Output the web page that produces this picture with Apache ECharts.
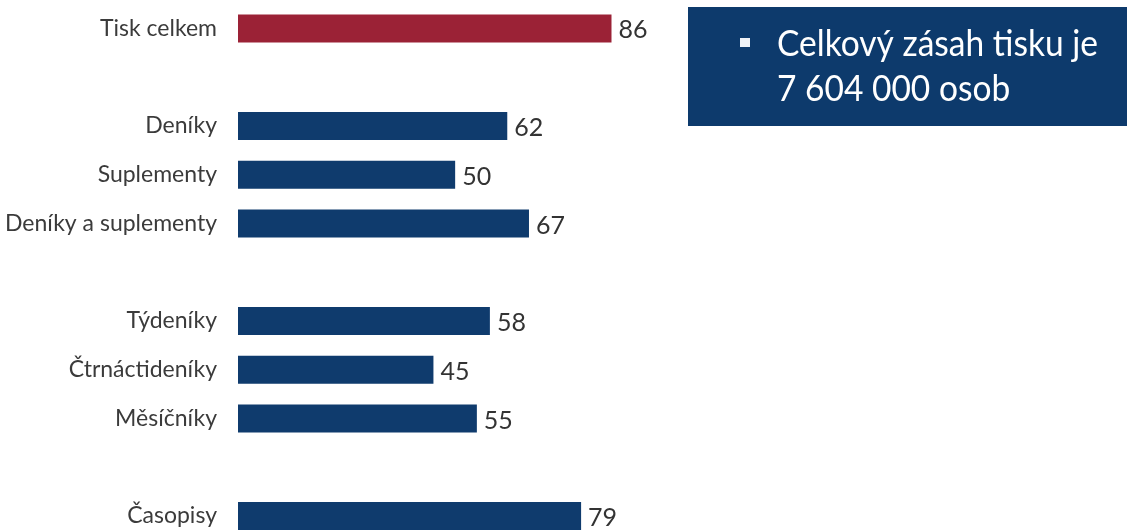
<!DOCTYPE html>
<html>
<head>
<meta charset="utf-8">
<script src="https://cdn.jsdelivr.net/npm/echarts@6/dist/echarts.min.js"></script>
<style>
html,body{margin:0;padding:0;background:#fff;}
#c{width:1127px;height:531px;}
</style>
</head>
<body>
<div id="c"></div>
<script>
var categories = ['Tisk celkem', ' ', 'Deníky', 'Suplementy', 'Deníky a suplementy', '  ', 'Týdeníky', 'Čtrnáctideníky', 'Měsíčníky', '   ', 'Časopisy'];
var values = [86, null, 62, 50, 67, null, 58, 45, 55, null, 79];
var highlight = ['Tisk celkem'];
var boxLine1 = 'Celkový zásah tisku je';
var boxLine2 = '7 604 000 osob';

var RED = '#9b2236';
var NAVY = '#0f3b6d';
var FONT = 'Lato, "Liberation Sans", sans-serif';

// horizontal squeeze for box text so it fits the measured width in the reference
var BOX_FONT = '37px ' + FONT;
var cv = document.createElement('canvas').getContext('2d');
cv.font = BOX_FONT;
var sx = 321 / cv.measureText(boxLine1).width;

var chart = echarts.init(document.getElementById('c'), null, {renderer: 'canvas'});
chart.setOption({
  backgroundColor: '#ffffff',
  animation: false,
  grid: {left: 238, top: 28.4, width: 434.3, height: 487.6, containLabel: false, outerBoundsMode: 'none'},
  xAxis: {
    type: 'value', min: 0, max: 100, show: false
  },
  yAxis: {
    type: 'category', data: categories, inverse: true, boundaryGap: false,
    axisLine: {show: false}, axisTick: {show: false}, splitLine: {show: false},
    axisLabel: {margin: 21, fontFamily: FONT, fontSize: 23, color: '#3b3b3b'}
  },
  series: [{
    type: 'bar',
    barWidth: 28,
    data: values.map(function (v, i) {
      return {value: v, itemStyle: {color: highlight.indexOf(categories[i]) >= 0 ? RED : NAVY}};
    }),
    label: {show: true, position: 'right', distance: 7, offset: [0, 2], fontFamily: FONT, fontSize: 25, color: '#333333'}
  }],
  graphic: [
    {type: 'rect', left: 688, top: 7, shape: {width: 450, height: 119}, style: {fill: '#0d3a6c'}},
    {type: 'rect', x: 740, y: 38, shape: {width: 10, height: 9}, style: {fill: '#eef2f7'}},
    {type: 'text', x: 777, y: 44, scaleX: sx, style: {text: boxLine1, fill: '#ffffff', font: BOX_FONT, verticalAlign: 'middle'}},
    {type: 'text', x: 777, y: 89, scaleX: sx, style: {text: boxLine2, fill: '#ffffff', font: BOX_FONT, verticalAlign: 'middle'}}
  ]
});
</script>
</body>
</html>
